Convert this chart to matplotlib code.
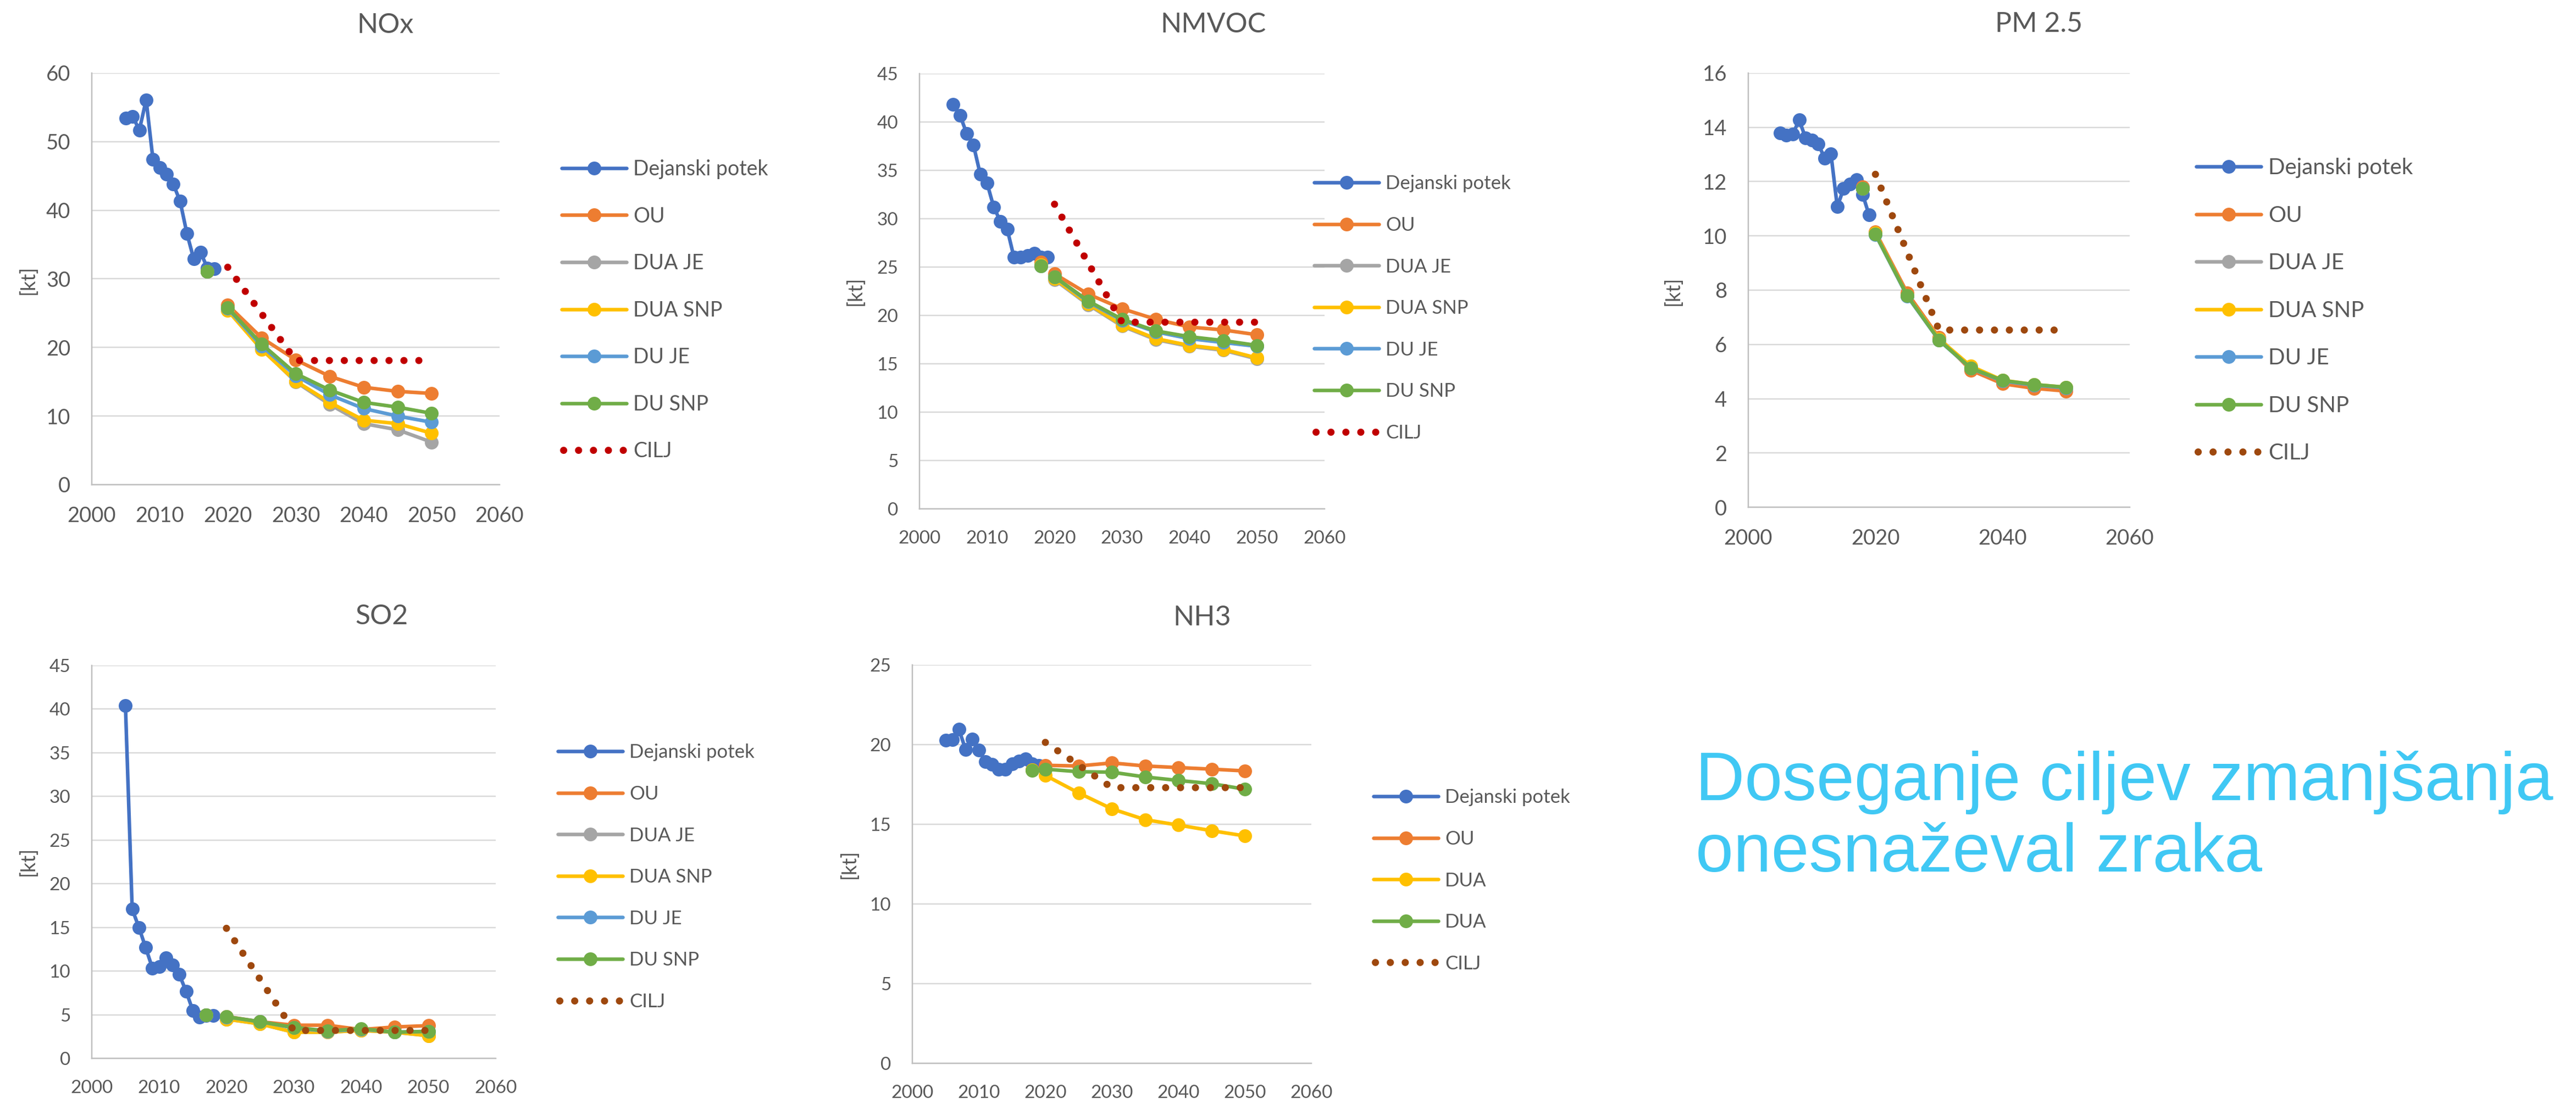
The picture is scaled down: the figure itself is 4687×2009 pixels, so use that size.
import numpy as np
import matplotlib
matplotlib.use('Agg')
import matplotlib.pyplot as plt
from matplotlib.lines import Line2D

nan = np.nan

# --- NOx ---
nox_hist_years = list(range(2005, 2019))
nox_hist = [53.4, 53.7, 51.7, 56.1, 47.4, 46.2, 45.3, 43.8, 41.3, 36.6, 32.9, 33.9, 31.6, 31.5]
nox_scen_years = [2017, 2018, 2020, 2025, 2030, 2035, 2040, 2045, 2050]
nox_ou = [31.1, nan, 26.2, 21.4, 18.2, 15.8, 14.2, 13.6, 13.3]
nox_dua_je = [31.1, nan, 25.5, 19.8, 15.0, 11.7, 8.9, 8.0, 6.2]
nox_dua_snp = [31.1, nan, 25.4, 19.7, 15.1, 12.0, 9.4, 8.9, 7.5]
nox_du_je = [31.1, nan, 25.7, 20.2, 15.9, 13.1, 11.1, 10.0, 9.1]
nox_du_snp = [31.1, nan, 25.8, 20.5, 16.2, 13.8, 12.0, 11.3, 10.4]
nox_cilj_years = [2020, 2030, 2050]
nox_cilj = [31.7, 18.1, 18.1]

# --- NMVOC ---
nmvoc_hist_years = list(range(2005, 2020))
nmvoc_hist = [41.8, 40.7, 38.8, 37.6, 34.6, 33.7, 31.2, 29.7, 28.9, 26.0, 26.0, 26.2, 26.4, 26.0, 26.0]
nmvoc_scen_years = [2018, 2019, 2020, 2025, 2030, 2035, 2040, 2045, 2050]
nmvoc_ou = [25.5, nan, 24.3, 22.2, 20.7, 19.6, 18.8, 18.5, 18.0]
nmvoc_dua_je = [25.2, nan, 23.7, 21.1, 18.9, 17.5, 16.8, 16.4, 15.5]
nmvoc_dua_snp = [25.2, nan, 23.8, 21.2, 19.0, 17.6, 16.9, 16.5, 15.6]
nmvoc_du_je = [25.1, nan, 24.0, 21.4, 19.5, 18.3, 17.6, 17.2, 16.8]
nmvoc_du_snp = [25.1, nan, 24.0, 21.5, 19.6, 18.4, 17.8, 17.4, 16.9]
nmvoc_cilj_years = [2020, 2030, 2050]
nmvoc_cilj = [31.5, 19.3, 19.3]

# --- PM 2.5 ---
pm_hist_years = list(range(2005, 2020))
pm_hist = [13.80, 13.71, 13.75, 14.27, 13.62, 13.52, 13.39, 12.87, 13.03, 11.07, 11.75, 11.90, 12.07, 11.52, 10.77]
pm_scen_years = [2018, 2019, 2020, 2025, 2030, 2035, 2040, 2045, 2050]
pm_ou = [11.80, nan, 10.15, 7.90, 6.25, 5.05, 4.55, 4.38, 4.28]
pm_dua_je = [11.75, nan, 10.10, 7.80, 6.20, 5.15, 4.65, 4.50, 4.40]
pm_dua_snp = [11.75, nan, 10.10, 7.80, 6.20, 5.20, 4.68, 4.52, 4.42]
pm_du_je = [11.75, nan, 10.05, 7.78, 6.15, 5.12, 4.65, 4.50, 4.40]
pm_du_snp = [11.75, nan, 10.06, 7.80, 6.16, 5.13, 4.67, 4.52, 4.42]
pm_cilj_years = [2020, 2030, 2050]
pm_cilj = [12.27, 6.53, 6.53]

# --- SO2 ---
so2_hist_years = list(range(2005, 2019))
so2_hist = [40.4, 17.1, 15.0, 12.7, 10.35, 10.5, 11.5, 10.7, 9.6, 7.7, 5.5, 4.7, 4.9, 4.9]
so2_scen_years = [2017, 2018, 2020, 2025, 2030, 2035, 2040, 2045, 2050]
so2_ou = [4.97, nan, 4.80, 4.20, 3.80, 3.80, 3.30, 3.60, 3.75]
so2_dua_je = [4.97, nan, 4.50, 3.95, 3.00, 3.00, 3.20, 3.00, 2.60]
so2_dua_snp = [4.97, nan, 4.50, 3.95, 3.00, 3.00, 3.20, 3.00, 2.60]
so2_du_je = [4.97, nan, 4.75, 4.20, 3.50, 3.10, 3.35, 3.00, 3.10]
so2_du_snp = [4.97, nan, 4.77, 4.20, 3.55, 3.15, 3.40, 3.00, 3.10]
so2_cilj_years = [2020, 2030, 2050]
so2_cilj = [14.9, 3.2, 3.2]

# --- NH3 ---
nh3_hist_years = list(range(2005, 2020))
nh3_hist = [20.26, 20.32, 20.96, 19.70, 20.34, 19.66, 18.94, 18.77, 18.44, 18.44, 18.80, 18.95, 19.10, 18.80, 18.70]
nh3_scen_years = [2018, 2019, 2020, 2025, 2030, 2035, 2040, 2045, 2050]
nh3_ou = [18.40, nan, 18.70, 18.66, 18.85, 18.66, 18.56, 18.46, 18.35]
nh3_dua_y = [18.40, nan, 18.07, 16.97, 15.97, 15.29, 14.95, 14.60, 14.27]
nh3_dua_g = [18.37, nan, 18.46, 18.30, 18.27, 17.97, 17.75, 17.55, 17.20]
nh3_cilj_years = [2020, 2030, 2050]
nh3_cilj = [20.14, 17.3, 17.3]

BLUE = '#4472C4'
ORANGE = '#ED7D31'
GREY = '#A5A5A5'
YELLOW = '#FFC000'
LBLUE = '#5B9BD5'
GREEN = '#70AD47'
RED = '#C00000'
BROWN = '#9E480E'
TXT = '#595959'

W, H, DPI = 4687, 2009, 100
pt = 72 / DPI          # points per pixel
LW = 6.5 * pt
MS = 25 * pt
DOT = 13 * pt
DOT_DASH = (0, (0.01, 27 / 13))

plt.rcParams['font.family'] = ['Lato', 'DejaVu Sans']

fig = plt.figure(figsize=(W / DPI, H / DPI), dpi=DPI)


def fx(x):
    return x / W


def fy(y):
    return 1 - y / H


def panel(box, ylim, ystep, xstep, fs, hist, scen, cilj, cilj_color):
    l, r, t, b = box
    ax = fig.add_axes([fx(l), fy(b), (r - l) / W, (b - t) / H])
    ax.plot(hist[0], hist[1], color=BLUE, lw=LW, marker='o', ms=MS, mew=0,
            solid_joinstyle='round', zorder=3)
    years = scen[0]
    for vals, color in scen[1]:
        ax.plot(years, vals, color=color, lw=LW, marker='o', ms=MS, mew=0,
                solid_joinstyle='round', zorder=3)
    ax.plot(cilj[0], cilj[1], color=cilj_color, lw=DOT, linestyle=DOT_DASH,
            dash_capstyle='round', zorder=4)
    ax.set_xlim(2000, 2060)
    ax.set_ylim(0, ylim)
    ax.set_xticks(np.arange(2000, 2061, xstep))
    ax.set_yticks(np.arange(0, ylim + 0.01, ystep))
    ax.grid(axis='y', color='#D9D9D9', lw=2.5 * pt)
    ax.set_axisbelow(True)
    for s in ('top', 'right'):
        ax.spines[s].set_visible(False)
    for s in ('left', 'bottom'):
        ax.spines[s].set_color('#BFBFBF')
        ax.spines[s].set_linewidth(2.5 * pt)
    ax.tick_params(length=0, pad=28, labelsize=fs, labelcolor=TXT)
    ax.patch.set_alpha(0)
    return ax


def title(x, y, text, fs=36):
    cap = fs / pt * 0.7165
    fig.text(fx(x), fy(y + cap / 2), text, ha='center', va='baseline',
             fontsize=fs, color=TXT)


def ylabel(x, y, fs=26):
    fig.text(fx(x), fy(y), '[kt]', ha='center', va='center', rotation=90,
             fontsize=fs, color=TXT)


def legend(x0, xt, y0, step, fs, entries):
    cap = fs / pt * 0.7165
    for i, (label, color, dotted) in enumerate(entries):
        y = y0 + i * step
        if dotted:
            fig.add_artist(Line2D([fx(x0 + 3), fx(x0 + 113)], [fy(y), fy(y)], color=color,
                                  lw=DOT, linestyle=DOT_DASH, dash_capstyle='round'))
        else:
            fig.add_artist(Line2D([fx(x0), fx(x0 + 118)], [fy(y), fy(y)], color=color,
                                  lw=LW, solid_capstyle='round'))
            fig.add_artist(Line2D([fx(x0 + 59)], [fy(y)], color=color, marker='o',
                                  ms=MS, mew=0))
        fig.text(fx(xt), fy(y + cap / 2), label, ha='left', va='baseline',
                 fontsize=fs, color=TXT)


full_names = ['Dejanski potek', 'OU', 'DUA JE', 'DUA SNP', 'DU JE', 'DU SNP', 'CILJ']
full_colors = [BLUE, ORANGE, GREY, YELLOW, LBLUE, GREEN]


def entries(cilj_color, names=full_names, colors=full_colors):
    return [(n, c, False) for n, c in zip(names[:-1], colors)] + [(names[-1], cilj_color, True)]


# NOx
panel((167, 909, 133, 882), 60, 10, 10, 27.5,
      (nox_hist_years, nox_hist),
      (nox_scen_years, [(nox_ou, ORANGE), (nox_dua_je, GREY), (nox_dua_snp, YELLOW),
                        (nox_du_je, LBLUE), (nox_du_snp, GREEN)]),
      (nox_cilj_years, nox_cilj), RED)
title(701, 42, 'NOx')
ylabel(51, 509)
legend(1022, 1152, 306, 85.5, 27, entries(RED))

# NMVOC
panel((1673, 2410, 134, 926), 45, 5, 10, 24,
      (nmvoc_hist_years, nmvoc_hist),
      (nmvoc_scen_years, [(nmvoc_ou, ORANGE), (nmvoc_dua_je, GREY), (nmvoc_dua_snp, YELLOW),
                          (nmvoc_du_je, LBLUE), (nmvoc_du_snp, GREEN)]),
      (nmvoc_cilj_years, nmvoc_cilj), RED)
title(2207, 41, 'NMVOC')
ylabel(1556, 529)
legend(2391, 2521, 332, 75.6, 25, entries(RED))

# PM 2.5
panel((3181, 3875, 133, 923), 16, 2, 20, 27.5,
      (pm_hist_years, pm_hist),
      (pm_scen_years, [(pm_ou, ORANGE), (pm_dua_je, GREY), (pm_dua_snp, YELLOW),
                       (pm_du_je, LBLUE), (pm_du_snp, GREEN)]),
      (pm_cilj_years, pm_cilj), BROWN)
title(3710, 40, 'PM 2.5')
ylabel(3044, 529)
legend(3996, 4127, 303, 86.5, 29, entries(BROWN))

# SO2
panel((167, 902, 1211, 1926), 45, 5, 10, 24,
      (so2_hist_years, so2_hist),
      (so2_scen_years, [(so2_ou, ORANGE), (so2_dua_je, GREY), (so2_dua_snp, YELLOW),
                        (so2_du_je, LBLUE), (so2_du_snp, GREEN)]),
      (so2_cilj_years, so2_cilj), BROWN)
title(695, 1118, 'SO2')
ylabel(51, 1567)
legend(1015, 1145, 1367, 75.6, 25, entries(BROWN))

# NH3
panel((1660, 2386, 1210, 1935), 25, 5, 10, 24,
      (nh3_hist_years, nh3_hist),
      (nh3_scen_years, [(nh3_ou, ORANGE), (nh3_dua_y, YELLOW), (nh3_dua_g, GREEN)]),
      (nh3_cilj_years, nh3_cilj), BROWN)
title(2187, 1120, 'NH3')
ylabel(1545, 1572)
legend(2499, 2629, 1449, 75.6, 25,
       entries(BROWN, ['Dejanski potek', 'OU', 'DUA', 'DUA', 'CILJ'], [BLUE, ORANGE, YELLOW, GREEN]))

# heading on the right
fig.text(fx(3085), fy(1456), 'Doseganje ciljev zmanjšanja', ha='left', va='baseline',
         fontsize=89, color='#40C8F4', family='Liberation Sans')
fig.text(fx(3085), fy(1586), 'onesnaževal zraka', ha='left', va='baseline',
         fontsize=89, color='#40C8F4', family='Liberation Sans')

fig.savefig('out.png', dpi=DPI)
